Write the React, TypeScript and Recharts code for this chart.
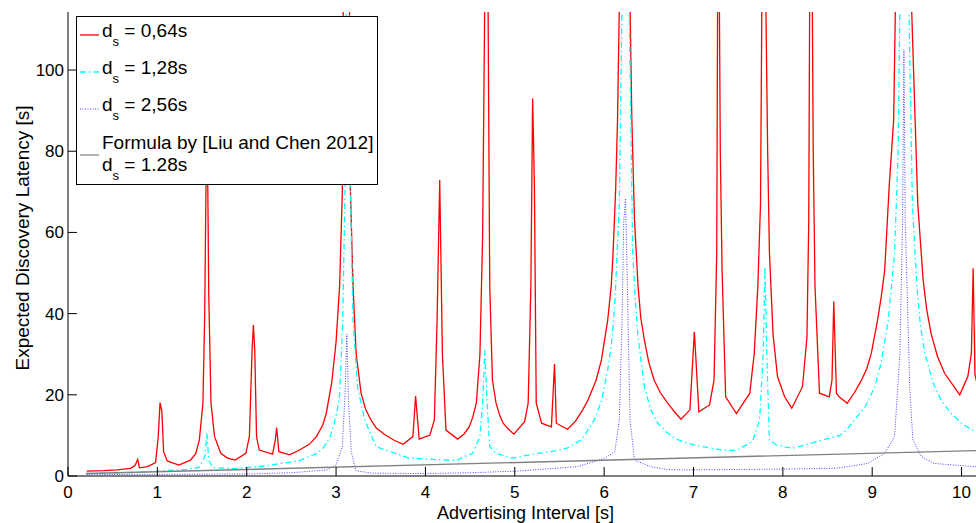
import React from 'react';
import { LineChart, Line, XAxis, YAxis, Legend } from 'recharts';

// [advertising interval (s), expected discovery latency (s)]
const redSeries: [number, number][] = [
  [0.21, 1.2], [0.4, 1.3], [0.55, 1.5], [0.7, 1.9], [0.75, 2.6], [0.78, 4.1], [0.8, 2.0], [0.89, 2.3],
  [0.98, 3.3], [1.01, 9.7], [1.03, 18.1], [1.05, 16.0], [1.07, 6.0], [1.11, 3.7], [1.24, 2.7], [1.37, 3.9],
  [1.43, 5.5], [1.47, 8.9], [1.51, 17.9], [1.53, 40], [1.555, 95], [1.575, 45], [1.6, 18], [1.64, 9.7],
  [1.71, 5.6], [1.785, 4.4], [1.87, 3.9], [1.99, 5.6], [2.03, 9.7], [2.06, 31], [2.075, 37.2], [2.09, 31],
  [2.11, 9.7], [2.14, 6.4], [2.29, 5.4], [2.32, 8.9], [2.335, 11.9], [2.36, 6.0], [2.48, 5.2], [2.59, 6.4],
  [2.7, 7.8], [2.78, 9.7], [2.85, 12.5], [2.89, 15.4], [2.95, 22.8], [3.0, 33], [3.04, 47], [3.07, 70],
  [3.08, 116], [3.115, 400], [3.15, 116], [3.16, 71], [3.19, 46.6], [3.225, 30], [3.28, 20.4], [3.33, 16.5],
  [3.39, 13.8], [3.45, 11.8], [3.54, 10.3], [3.65, 8.8], [3.75, 7.8], [3.86, 9.7], [3.89, 19.7], [3.93, 9.1],
  [4.05, 10.1], [4.1, 13.8], [4.13, 38], [4.16, 72.9], [4.19, 30], [4.23, 11.3], [4.36, 9.1], [4.43, 10.3],
  [4.49, 12.1], [4.53, 14.5], [4.57, 18], [4.61, 30], [4.64, 59], [4.655, 95], [4.665, 120], [4.685, 400],
  [4.7, 120], [4.72, 46.6], [4.75, 23.6], [4.79, 18], [4.83, 15], [4.87, 13], [4.93, 11.5], [4.99, 10.3],
  [5.11, 13.4], [5.15, 18], [5.18, 46.6], [5.2, 93], [5.22, 71], [5.24, 18], [5.3, 13], [5.41, 12.1],
  [5.445, 27.6], [5.465, 13], [5.59, 11.5], [5.68, 13.5], [5.76, 16.3], [5.82, 18.7], [5.91, 23.6], [5.97, 28.6],
  [6.04, 38.4], [6.08, 47], [6.1, 54.9], [6.13, 71.3], [6.15, 87.7], [6.17, 116], [6.235, 400], [6.29, 116],
  [6.31, 88], [6.34, 63], [6.38, 46.6], [6.41, 39], [6.45, 33.5], [6.5, 28], [6.56, 23.6], [6.63, 20.5],
  [6.71, 18], [6.78, 16], [6.86, 14], [6.96, 16.3], [7.01, 35.5], [7.06, 15.8], [7.18, 17.5], [7.23, 23.6],
  [7.26, 54.9], [7.27, 116], [7.28, 400], [7.29, 116], [7.3, 80], [7.32, 50.7], [7.36, 19.5], [7.48, 15.4],
  [7.63, 20.4], [7.68, 30.2], [7.72, 46.6], [7.75, 67], [7.765, 116], [7.79, 400], [7.81, 116], [7.83, 80],
  [7.85, 55], [7.89, 35], [7.94, 24.5], [8.02, 19.5], [8.1, 16.7], [8.22, 22], [8.27, 34.3], [8.29, 63],
  [8.3, 116], [8.315, 400], [8.33, 116], [8.34, 80], [8.36, 46.6], [8.41, 20.4], [8.52, 19.5], [8.55, 23.6],
  [8.57, 43], [8.6, 20.4], [8.63, 19.5], [8.72, 17.9], [8.8, 20.5], [8.88, 23.6], [8.94, 26.5], [8.99, 30.2],
  [9.06, 38.4], [9.1, 44], [9.14, 50.7], [9.19, 71.3], [9.24, 87.7], [9.26, 116], [9.35, 400], [9.44, 116],
  [9.48, 88], [9.51, 67], [9.57, 48.3], [9.61, 41], [9.66, 35], [9.73, 29.5], [9.81, 25.3], [9.9, 22.5],
  [9.98, 20], [10.07, 24.5], [10.11, 30.2], [10.13, 51.2], [10.15, 25], [10.18, 22], [10.24, 21],
];

const cyanSeries: [number, number][] = [
  [0.21, 0.6], [0.8, 0.9], [1.32, 1.6], [1.47, 2.1], [1.53, 4.8], [1.555, 10.5], [1.575, 3.9], [1.62, 2.1],
  [1.845, 1.8], [2.22, 2.5], [2.5, 3.5], [2.59, 3.8], [2.78, 5.5], [2.86, 7], [2.93, 9.5], [2.98, 13],
  [3.02, 17], [3.04, 20], [3.075, 38.4], [3.1, 71], [3.115, 116], [3.13, 400], [3.15, 116], [3.16, 71],
  [3.19, 38.4], [3.24, 22], [3.32, 13.8], [3.45, 7.2], [3.54, 6.5], [3.82, 4.4], [4.34, 3.8], [4.53, 5.6],
  [4.61, 9.7], [4.64, 17.9], [4.665, 31], [4.69, 17.9], [4.72, 7.2], [4.79, 5.6], [4.97, 4.4], [5.24, 5.5],
  [5.45, 6.2], [5.59, 6.9], [5.75, 9], [5.89, 13.8], [5.97, 18.5], [6.04, 26], [6.09, 34], [6.12, 42.5],
  [6.17, 67], [6.2, 116], [6.24, 400], [6.28, 116], [6.32, 55], [6.35, 43], [6.38, 34.3], [6.45, 22],
  [6.52, 16.5], [6.6, 13], [6.7, 10.8], [6.79, 9.3], [6.9, 8.3], [7.01, 7.6], [7.33, 6.4], [7.48, 6.3],
  [7.66, 8.5], [7.74, 13.8], [7.78, 30.2], [7.8, 51.5], [7.82, 30.2], [7.85, 8.9], [7.93, 7.6], [8.11, 6.8],
  [8.45, 8.9], [8.64, 10], [8.72, 11.5], [8.8, 13.8], [8.92, 17], [9.03, 22], [9.1, 28], [9.18, 38.4],
  [9.25, 54.9], [9.29, 79.5], [9.31, 116], [9.36, 400], [9.41, 116], [9.45, 67], [9.5, 46.6], [9.54, 37],
  [9.59, 30.2], [9.68, 23], [9.77, 18.7], [9.88, 15.5], [10.0, 13], [10.15, 10.9], [10.24, 10.3],
];

const blueSeries: [number, number][] = [
  [0.21, 0.35], [1.0, 0.4], [2.0, 0.5], [2.5, 0.8], [2.9, 1.5], [3.0, 2.7], [3.07, 7.2], [3.1, 20],
  [3.12, 35], [3.14, 18], [3.17, 6], [3.22, 1.3], [3.4, 0.7], [4.0, 0.6], [4.5, 0.8], [5.02, 1.2],
  [5.7, 2.3], [6.0, 4.3], [6.12, 6], [6.17, 13.8], [6.2, 38.4], [6.22, 63], [6.24, 68.4], [6.26, 46.6],
  [6.29, 13.8], [6.34, 3.9], [6.52, 2.3], [6.71, 1.6], [6.9, 1.5], [8.03, 1.7], [8.6, 1.9], [8.78, 2.5],
  [8.95, 3.1], [9.14, 5.6], [9.25, 9.7], [9.31, 30.2], [9.34, 63], [9.355, 105], [9.37, 63], [9.42, 22],
  [9.455, 8.9], [9.55, 4.8], [9.69, 3.1], [10.15, 2.3], [10.24, 2.2],
];

const formulaSeries: [number, number][] = [
  [0.2, 0.6], [10.24, 6.3],
];

const xTicks = [0, 1, 2, 3, 4, 5, 6, 7, 8, 9, 10];
const yTicks = [0, 20, 40, 60, 80, 100];

const toRows = (s: [number, number][]) => s.map(([x, y]) => ({ x, y }));

const FONT = '"Liberation Sans", Arial, Helvetica, sans-serif';

const legendItems = [
  { label: '0,64s', color: '#ff0000', dash: undefined as string | undefined, width: 1.3 },
  { label: '1,28s', color: '#00ffff', dash: '6 3 1.5 3', width: 1.3 },
  { label: '2,56s', color: '#4444ff', dash: '1 1.5', width: 1 },
];

function XTick(props: any) {
  const { x, y, payload } = props;
  return (
    <g>
      <line x1={x} y1={y} x2={x} y2={y - 9} stroke="#000" strokeWidth={1} />
      <text x={x} y={y + 22} textAnchor="middle" fontSize={17} fontFamily={FONT} fill="#000">
        {payload.value}
      </text>
    </g>
  );
}

function YTick(props: any) {
  const { x, y, payload } = props;
  return (
    <g>
      <line x1={x} y1={y} x2={x + 9} y2={y} stroke="#000" strokeWidth={1} />
      <text x={x - 4} y={y + 6} textAnchor="end" fontSize={17} fontFamily={FONT} fill="#000">
        {payload.value}
      </text>
    </g>
  );
}

function XLabel(props: any) {
  const vb = props.viewBox || { x: 68, y: 476, width: 915, height: 47 };
  return (
    <text x={vb.x + vb.width / 2} y={vb.y + 43} textAnchor="middle" fontSize={18} fontFamily={FONT} fill="#000">
      Advertising Interval [s]
    </text>
  );
}

function YLabel(props: any) {
  const vb = props.viewBox || { x: 0, y: 12, width: 68, height: 464 };
  const cy = vb.y + vb.height / 2 - 6;
  return (
    <text
      transform={`translate(${vb.x + 29}, ${cy}) rotate(-90)`}
      textAnchor="middle"
      fontSize={19}
      fontFamily={FONT}
      fill="#000"
    >
      Expected Discovery Latency [s]
    </text>
  );
}

function LegendBox() {
  const rowY = [37, 74, 111];
  return (
    <svg width={303} height={170} style={{ display: 'block' }}>
      <rect x={0.5} y={0.5} width={301} height={168} fill="#fff" stroke="#000" strokeWidth={1} />
      {legendItems.map((it, i) => (
        <g key={i}>
          <line x1={4} x2={23} y1={rowY[i] - 18} y2={rowY[i] - 18} stroke={it.color} strokeWidth={it.width} strokeDasharray={it.dash} />
          <text x={26} y={rowY[i] - 16} fontSize={19} fontFamily={FONT} fill="#000">
            d<tspan fontSize={13} dy={9}>s</tspan><tspan dy={-9}> = {it.label}</tspan>
          </text>
        </g>
      ))}
      <line x1={4} x2={23} y1={139} y2={139} stroke="#808080" strokeWidth={1.2} />
      <text x={26} y={133} fontSize={19} fontFamily={FONT} fill="#000">Formula by [Liu and Chen 2012]</text>
      <text x={26} y={155} fontSize={19} fontFamily={FONT} fill="#000">
        d<tspan fontSize={13} dy={9}>s</tspan><tspan dy={-9}> = 1.28s</tspan>
      </text>
    </svg>
  );
}

export default function App() {
  return (
    <div style={{ position: 'fixed', left: 0, top: 0, width: 976, height: 523, overflow: 'hidden', background: '#fff' }}>
      <LineChart width={983} height={523} margin={{ top: 12, right: 0, bottom: 0, left: 0 }}>
        <XAxis
          type="number"
          dataKey="x"
          domain={[0, 10.24]}
          ticks={xTicks}
          allowDataOverflow
          height={47}
          tickSize={0}
          tickMargin={0}
          tickLine={false}
          tick={<XTick />}
          axisLine={{ stroke: '#000', strokeWidth: 1 }}
          label={<XLabel />}
        />
        <YAxis
          type="number"
          dataKey="y"
          domain={[0, 114.3]}
          ticks={yTicks}
          allowDataOverflow
          width={68}
          tickSize={0}
          tickMargin={0}
          tickLine={false}
          tick={<YTick />}
          axisLine={{ stroke: '#000', strokeWidth: 1 }}
          label={<YLabel />}
        />
        <Line data={toRows(redSeries)} dataKey="y" type="linear" stroke="#ff0000" strokeWidth={1.3} dot={false} isAnimationActive={false} />
        <Line data={toRows(cyanSeries)} dataKey="y" type="linear" stroke="#00ffff" strokeWidth={1.3} strokeDasharray="6 3 1.5 3" dot={false} isAnimationActive={false} />
        <Line data={toRows(blueSeries)} dataKey="y" type="linear" stroke="#4444ff" strokeWidth={1} strokeDasharray="1 1.5" dot={false} isAnimationActive={false} />
        <Line data={toRows(formulaSeries)} dataKey="y" type="linear" stroke="#808080" strokeWidth={1.4} dot={false} isAnimationActive={false} />
        <Legend
          layout="horizontal"
          verticalAlign="middle"
          align="center"
          content={<LegendBox />}
          wrapperStyle={{ position: 'absolute', left: 76, top: 16, width: 303, height: 170 }}
        />
      </LineChart>
    </div>
  );
}
